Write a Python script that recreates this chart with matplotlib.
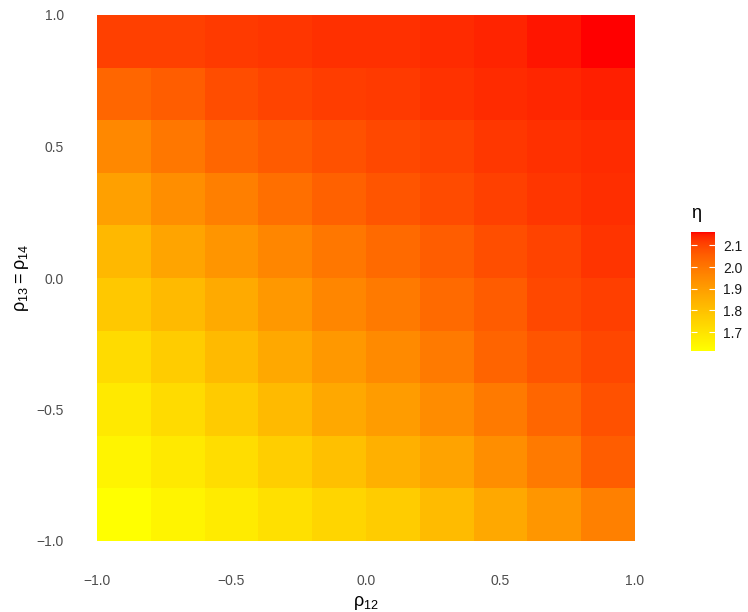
import numpy as np
import matplotlib
matplotlib.use("Agg")
import matplotlib.pyplot as plt
from matplotlib.colors import ListedColormap, Normalize

# Tile centres along each axis
rho12 = [-0.9, -0.7, -0.5, -0.3, -0.1, 0.1, 0.3, 0.5, 0.7, 0.9]
rho13 = [0.9, 0.7, 0.5, 0.3, 0.1, -0.1, -0.3, -0.5, -0.7, -0.9]

# eta values, one row per rho13 (top row first), columns follow rho12
eta_rows = [
    [2.108, 2.109, 2.116, 2.123, 2.130, 2.130, 2.136, 2.142, 2.152, 2.1625],
    [2.037, 2.057, 2.086, 2.102, 2.113, 2.116, 2.127, 2.136, 2.139, 2.146],
    [1.957, 1.998, 2.037, 2.061, 2.080, 2.096, 2.106, 2.120, 2.130, 2.136],
    [1.891, 1.941, 1.979, 2.018, 2.048, 2.071, 2.091, 2.109, 2.123, 2.132],
    [1.826, 1.881, 1.922, 1.962, 1.998, 2.029, 2.057, 2.084, 2.104, 2.125],
    [1.779, 1.820, 1.864, 1.913, 1.960, 1.991, 2.028, 2.058, 2.096, 2.110],
    [1.725, 1.767, 1.820, 1.870, 1.913, 1.952, 1.991, 2.041, 2.071, 2.097],
    [1.683, 1.725, 1.773, 1.820, 1.870, 1.902, 1.946, 1.991, 2.037, 2.080],
    [1.648, 1.683, 1.716, 1.761, 1.802, 1.848, 1.886, 1.941, 1.991, 2.057],
    [1.615, 1.651, 1.677, 1.710, 1.740, 1.767, 1.818, 1.870, 1.919, 1.976],
]

axis_ticks = [-1.0, -0.5, 0.0, 0.5, 1.0]
legend_ticks = [1.7, 1.8, 1.9, 2.0, 2.1]


# ---- yellow -> red gradient interpolated in CIELAB ----
_WHITE = np.array([0.95047, 1.0, 1.08883])
_M = np.array([[0.4124564, 0.3575761, 0.1804375],
               [0.2126729, 0.7151522, 0.0721750],
               [0.0193339, 0.1191920, 0.9503041]])
_MI = np.linalg.inv(_M)


def srgb_to_lab(rgb):
    c = np.asarray(rgb, float)
    lin = np.where(c <= 0.04045, c / 12.92, ((c + 0.055) / 1.055) ** 2.4)
    xyz = _M @ lin / _WHITE
    f = np.where(xyz > 216 / 24389, np.cbrt(xyz), (24389 / 27 * xyz + 16) / 116)
    return np.array([116 * f[1] - 16, 500 * (f[0] - f[1]), 200 * (f[1] - f[2])])


def lab_to_srgb(lab):
    L, a, b = lab
    fy = (L + 16) / 116
    fx = fy + a / 500
    fz = fy - b / 200
    f = np.array([fx, fy, fz])
    xyz = np.where(f ** 3 > 216 / 24389, f ** 3, (116 * f - 16) / (24389 / 27)) * _WHITE
    lin = np.clip(_MI @ xyz, 0, 1)
    c = np.where(lin <= 0.0031308, 12.92 * lin, 1.055 * lin ** (1 / 2.4) - 0.055)
    return np.clip(c, 0, 1)


lab_lo = srgb_to_lab([1, 1, 0])
lab_hi = srgb_to_lab([1, 0, 0])
grad = [lab_to_srgb(lab_lo + s * (lab_hi - lab_lo)) for s in np.linspace(0, 1, 256)]
cmap = ListedColormap(grad)

eta = np.array(eta_rows)
x = np.array(rho12)
y = np.array(rho13)
# sort rows so y increases for pcolormesh
order = np.argsort(y)
y = y[order]
Z = eta[order]
half = 0.1
x_edges = np.append(x - half, x[-1] + half)
y_edges = np.append(y - half, y[-1] + half)

norm = Normalize(vmin=eta.min(), vmax=eta.max())

plt.rcParams["font.family"] = ["Liberation Sans", "DejaVu Sans"]
plt.rcParams["axes.unicode_minus"] = True

W, H = 748, 612
fig = plt.figure(figsize=(W / 100, H / 100), dpi=100)
ax = fig.add_axes([97 / W, (H - 541) / H, 538 / W, 526 / H])
mesh = ax.pcolormesh(x_edges, y_edges, Z, cmap=cmap, norm=norm,
                     shading="flat", antialiased=False, linewidth=0)
ax.set_xlim(-1, 1)
ax.set_ylim(-1, 1)
for s in ax.spines.values():
    s.set_visible(False)

ax.set_xticks(axis_ticks)
ax.set_yticks(axis_ticks)
ax.set_xticklabels([f"{v:.1f}".replace("-", "\u2212") for v in axis_ticks])
ax.set_yticklabels([f"{v:.1f}".replace("-", "\u2212") for v in axis_ticks])
ax.tick_params(axis="both", length=0, labelsize=10, labelcolor="#4D4D4D")
ax.tick_params(axis="x", pad=24)
ax.tick_params(axis="y", pad=24)

ax.set_xlabel(r"$\mathregular{ρ_{12}}$", fontsize=13, labelpad=4)
ax.set_ylabel(r"$\mathregular{ρ_{13} = ρ_{14}}$", fontsize=13, labelpad=4)

# colour bar legend
cax = fig.add_axes([691 / W, (H - 350.7) / H, 24 / W, 119 / H])
cb = fig.colorbar(mesh, cax=cax, ticks=legend_ticks)
cb.outline.set_visible(False)
cax.yaxis.set_ticks_position("both")
cax.tick_params(axis="y", direction="in", length=4, width=0.8, color="white",
                labelleft=False, labelright=True, labelsize=10,
                labelcolor="#1A1A1A", pad=6)
cax.set_yticklabels([f"{v:.1f}" for v in legend_ticks])
fig.text(691 / W, (H - 213) / H, "η", fontsize=13, ha="left", va="center")

fig.savefig("out.png", dpi=100)
